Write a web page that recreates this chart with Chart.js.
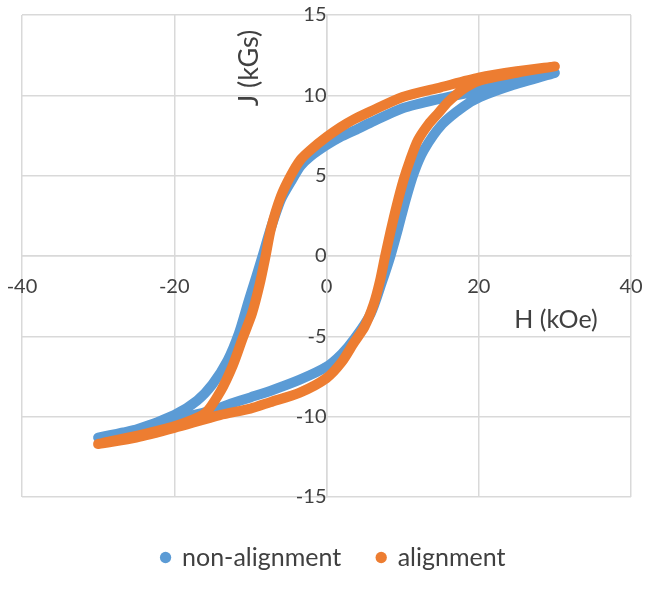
<!DOCTYPE html>
<html>
<head>
<meta charset="utf-8">
<script src="https://cdn.jsdelivr.net/npm/chart.js@4.4.1/dist/chart.umd.min.js"></script>
<style>
  html, body { margin: 0; padding: 0; background: #ffffff; }
  #wrap { width: 645px; height: 591px; }
</style>
</head>
<body>
<div id="wrap"><canvas id="chart"></canvas></div>
<script>
// hysteresis loops, H in kOe, J in kGs (upper branch 30 -> -30, then lower branch back to 30)
var nonAlignH = [30, 25, 20, 15, 10, 5.8, 3.6, 1.8, 0, -2.1, -3.4, -4.7, -6, -7.4, -8.4, -9.3, -10.2, -11.5, -13, -15, -17, -20, -25, -30,
  -25, -20, -15, -12.6, -10, -7.4, -3.5, 0, 2, 3.6, 5.8, 7.3, 8.4, 9.4, 10.4, 11.5, 12.8, 15.2, 18, 20.2, 24.2, 30];
var nonAlignJ = [11.4, 10.9, 10.3, 9.8, 9.2, 8.3, 7.8, 7.4, 6.9, 6.2, 5.6, 4.6, 3.5, 1.6, 0, -1.4, -2.75, -4.8, -6.5, -8.0, -9.0, -9.9, -10.8, -11.3,
  -10.8, -10.2, -9.6, -9.2, -8.8, -8.4, -7.7, -6.9, -6.1, -5.2, -3.6, -1.6, 0, 1.7, 3.5, 5.2, 6.6, 8.2, 9.3, 9.9, 10.6, 11.4];

var alignH = [30, 25, 20, 15, 10, 5.8, 3.6, 1.8, 0, -2.1, -3.4, -4.7, -6, -7.3, -8.0, -8.8, -9.8, -11.0, -12.3, -13.9, -16, -20, -25, -30,
  -25, -20, -14, -10, -7.4, -3.5, 0, 2, 3.6, 5.0, 6.2, 7.0, 7.7, 8.4, 9.2, 10.1, 11.0, 12.0, 13.4, 14.7, 16.0, 18.0, 20, 25, 30];
var alignJ = [11.8, 11.5, 11.1, 10.5, 9.9, 9.0, 8.5, 8.0, 7.4, 6.6, 6.0, 5.0, 3.7, 1.7, 0, -1.8, -3.6, -5.1, -6.8, -8.4, -9.8, -10.6, -11.2, -11.7,
  -11.3, -10.7, -9.9, -9.5, -9.1, -8.5, -7.6, -6.6, -5.4, -4.4, -3.0, -1.6, 0, 1.5, 3.1, 4.7, 6.0, 7.2, 8.2, 8.9, 9.6, 10.4, 10.9, 11.4, 11.8];

var seriesNames = ["non-alignment", "alignment"];
var xTitle = "H (kOe)";
var yTitle = "J (kGs)";

function toPoints(hs, js) {
  return hs.map(function (h, i) { return { x: h, y: js[i] }; });
}

var textColor = "#404040";
var gridColor = "#d9d9d9";

function lineSet(label, color, pts, order) {
  return {
    label: label,
    data: pts,
    showLine: true,
    borderColor: color,
    backgroundColor: color,
    pointBackgroundColor: color,
    pointBorderWidth: 0,
    pointRadius: 0,
    pointHoverRadius: 0,
    borderWidth: 10,
    borderCapStyle: "round",
    borderJoinStyle: "round",
    tension: 0.25,
    yAxisID: "y",
    order: order,
  };
}

// centred axes should not eat into the plot area
function noSpaceX(s) { s.height = 0; s.paddingLeft = 0; s.paddingRight = 0; s.paddingTop = 0; s.paddingBottom = 0; }
function noSpaceY(s) { s.width = 0; s.paddingLeft = 0; s.paddingRight = 0; s.paddingTop = 0; s.paddingBottom = 0; }

var axisTitles = {
  id: "axisTitles",
  afterLayout: function (chart) {
    // nudge the legend row to where Excel put it
    var lg = chart.legend;
    lg.left += 7; lg.right += 7;
    lg.top += 12; lg.bottom += 12;
  },
  afterDraw: function (chart) {
    var ctx = chart.ctx;
    ctx.save();
    ctx.fillStyle = textColor;
    ctx.textAlign = "center";
    ctx.textBaseline = "middle";
    ctx.font = "25px Lato";
    ctx.fillText(xTitle, 556, 320);
    ctx.font = "27px Lato";
    ctx.translate(249, 68);
    ctx.rotate(-Math.PI / 2);
    ctx.fillText(yTitle, 0, 0);
    ctx.restore();
  },
};

var tickFont = { family: "Lato", size: 20 };

new Chart("chart", {
  type: "scatter",
  data: {
    datasets: [
      lineSet(seriesNames[0], "#5b9bd5", toPoints(nonAlignH, nonAlignJ), 2),
      lineSet(seriesNames[1], "#ed7d31", toPoints(alignH, alignJ), 1),
    ],
  },
  options: {
    responsive: true,
    maintainAspectRatio: false,
    animation: false,
    layout: { padding: { left: 22, right: 14, top: 15, bottom: 23 } },
    scales: {
      x: {
        type: "linear",
        position: { yGrid: 0 },
        min: -40,
        max: 40,
        ticks: { stepSize: 20, color: textColor, font: tickFont, padding: 19 },
        grid: { color: gridColor, lineWidth: 1.5, drawTicks: false },
        border: { color: gridColor, width: 1.5 },
        afterFit: noSpaceX,
      },
      yGrid: {
        type: "linear",
        position: { x: 0 },
        min: -15,
        max: 15,
        ticks: { stepSize: 5, display: false },
        grid: { color: gridColor, lineWidth: 1.5, drawTicks: false },
        border: { color: gridColor, width: 1.5 },
        afterFit: noSpaceY,
      },
      y: {
        type: "linear",
        position: { x: 0 },
        min: -15,
        max: 15,
        z: 1,
        ticks: { stepSize: 5, color: textColor, font: tickFont, padding: 22 },
        grid: { display: false, drawTicks: false },
        border: { display: false },
        afterFit: noSpaceY,
      },
    },
    plugins: {
      tooltip: { enabled: false },
      legend: {
        position: "bottom",
        labels: {
          usePointStyle: true,
          pointStyle: "circle",
          boxWidth: 8,
          boxHeight: 8,
          padding: 36,
          color: textColor,
          font: { family: "Lato", size: 25 },
          sort: function (a, b) { return a.datasetIndex - b.datasetIndex; },
        },
      },
    },
  },
  plugins: [axisTitles],
});
</script>
</body>
</html>
